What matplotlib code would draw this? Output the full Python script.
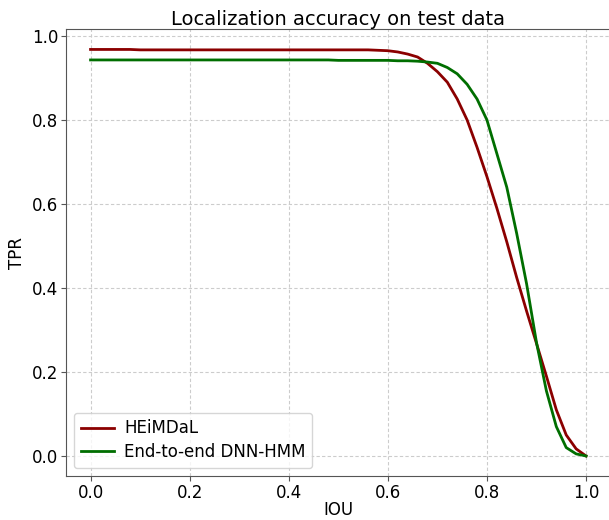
import numpy as np
import matplotlib.pyplot as plt

iou = np.round(np.arange(0, 1.0001, 0.02), 2)

heimdal = [0.968, 0.968, 0.968, 0.968, 0.968, 0.967, 0.967, 0.967, 0.967, 0.967,
           0.967, 0.967, 0.967, 0.967, 0.967, 0.967, 0.967, 0.967, 0.967, 0.967,
           0.967, 0.967, 0.967, 0.967, 0.967, 0.967, 0.967, 0.967, 0.967, 0.966,
           0.965, 0.962, 0.957, 0.950, 0.935, 0.915, 0.890, 0.850, 0.800, 0.735,
           0.665, 0.590, 0.510, 0.425, 0.345, 0.268, 0.190, 0.110, 0.050, 0.017,
           0.000]
dnn_hmm = [0.943, 0.943, 0.943, 0.943, 0.943, 0.943, 0.943, 0.943, 0.943, 0.943,
           0.943, 0.943, 0.943, 0.943, 0.943, 0.943, 0.943, 0.943, 0.943, 0.943,
           0.943, 0.943, 0.943, 0.943, 0.943, 0.942, 0.942, 0.942, 0.942, 0.942,
           0.942, 0.941, 0.941, 0.940, 0.938, 0.935, 0.925, 0.910, 0.885, 0.850,
           0.800, 0.720, 0.640, 0.530, 0.410, 0.270, 0.155, 0.070, 0.020, 0.005,
           0.000]

fig = plt.figure(figsize=(6.09, 5.2), dpi=100)
ax = fig.add_axes([0.108, 0.084, 0.895, 0.86])
ax.plot(iou, heimdal, color='darkred', linewidth=2, label='HEiMDaL')
ax.plot(iou, dnn_hmm, color='#006e00', linewidth=2, label='End-to-end DNN-HMM')
ax.grid(linestyle=(0, (3, 2)), color='#cccccc', linewidth=0.8)
for s in ax.spines.values():
    s.set_color('#555555')
ax.tick_params(labelsize=12, colors='#555555', labelcolor='black', pad=2)
ax.set_xlabel('IOU', fontsize=12, labelpad=-1)
ax.set_ylabel('TPR', fontsize=12, labelpad=4)
ax.set_title('Localization accuracy on test data', fontsize=14, pad=3)
ax.legend(loc='lower left', fontsize=12, handlelength=2, handletextpad=0.6,
          labelspacing=0.35)
fig.savefig('out.png', dpi=100)
